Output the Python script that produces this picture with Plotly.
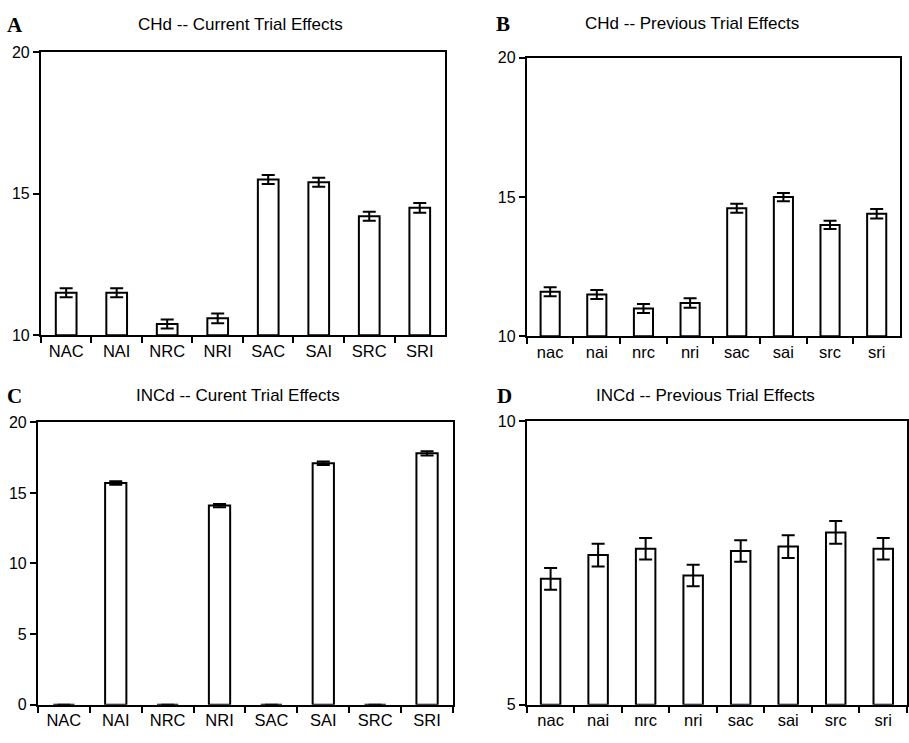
import plotly.graph_objects as go

cats_upper = ["NAC", "NAI", "NRC", "NRI", "SAC", "SAI", "SRC", "SRI"]
cats_lower = ["nac", "nai", "nrc", "nri", "sac", "sai", "src", "sri"]

a_vals = [11.5, 11.5, 10.4, 10.6, 15.5, 15.4, 14.2, 14.5]
a_err = [0.16, 0.16, 0.16, 0.17, 0.16, 0.16, 0.16, 0.17]

b_vals = [11.6, 11.5, 11.0, 11.2, 14.6, 15.0, 14.0, 14.4]
b_err = [0.16, 0.16, 0.16, 0.17, 0.16, 0.15, 0.15, 0.17]

c_vals = [0, 15.7, 0, 14.1, 0, 17.1, 0, 17.8]
c_err = [0, 0.12, 0, 0.12, 0, 0.12, 0, 0.15]

d_vals = [7.22, 7.64, 7.75, 7.28, 7.71, 7.79, 8.04, 7.75]
d_err = [0.19, 0.2, 0.19, 0.19, 0.19, 0.2, 0.2, 0.19]

titles = ["CHd -- Current Trial Effects", "CHd -- Previous Trial Effects",
          "INCd -- Curent Trial Effects", "INCd -- Previous Trial Effects"]
letters = ["A", "B", "C", "D"]

W, H = 909, 743

panels = [
    dict(cats=cats_upper, vals=a_vals, err=a_err, x=(41, 446), y=(45, 335),
         rng=[10, 20], ticks=[10, 15, 20], title_xy=(241, 17), letter_xy=(15, 17)),
    dict(cats=cats_lower, vals=b_vals, err=b_err, x=(528, 902), y=(51, 336),
         rng=[10, 20], ticks=[10, 15, 20], title_xy=(694, 16), letter_xy=(504, 16)),
    dict(cats=cats_upper, vals=c_vals, err=c_err, x=(38, 454), y=(424, 713),
         rng=[0, 20], ticks=[0, 5, 10, 15, 20], title_xy=(239, 397), letter_xy=(15, 397)),
    dict(cats=cats_lower, vals=d_vals, err=d_err, x=(528, 912), y=(423, 713),
         rng=[5, 10], ticks=[5, 10], title_xy=(707, 397), letter_xy=(506, 397)),
]


def px_x(v):
    return v / W


def px_y(v):
    return 1 - v / H


fig = go.Figure()
font = "Liberation Sans, Arial, sans-serif"
annotations = []
layout = {}
for i, p in enumerate(panels):
    n = "" if i == 0 else str(i + 1)
    lo = p["rng"][0]
    fig.add_trace(go.Bar(
        x=p["cats"], y=[v - lo for v in p["vals"]], base=lo,
        xaxis="x" + n, yaxis="y" + n,
        marker=dict(color="white", line=dict(color="black", width=2)),
        width=0.41,
        error_y=dict(type="data", array=p["err"], visible=True,
                     color="black", thickness=2, width=6.5),
        showlegend=False, hoverinfo="skip",
    ))
    x0, x1 = p["x"]
    y0, y1 = p["y"]
    layout["xaxis" + n] = dict(
        domain=[px_x(x0), min(px_x(x1), 1.0)], anchor="y" + n,
        type="category", tickson="boundaries", ticks="outside", ticklen=6,
        tickwidth=1.5, tickcolor="black",
        showline=True, linecolor="black", linewidth=2, mirror=True,
        showgrid=False, tickfont=dict(family=font, size=16.5, color="black"),
        range=[-0.5, 7.5], fixedrange=True,
    )
    layout["yaxis" + n] = dict(
        domain=[px_y(y1), px_y(y0)], anchor="x" + n,
        range=p["rng"], tickvals=p["ticks"], ticks="outside", ticklen=6,
        tickwidth=1.5, tickcolor="black",
        showline=True, linecolor="black", linewidth=2, mirror=True,
        showgrid=False, zeroline=False,
        tickfont=dict(family=font, size=16, color="black"),
    )
    tx, ty = p["title_xy"]
    annotations.append(dict(text=titles[i], x=px_x(tx), y=px_y(ty), xref="paper", yref="paper",
                            xanchor="center", yanchor="middle", showarrow=False,
                            font=dict(family=font, size=17, color="black")))
    lx, ly = p["letter_xy"]
    annotations.append(dict(text="<b>" + letters[i] + "</b>", x=px_x(lx), y=px_y(ly),
                            xref="paper", yref="paper", xanchor="center", yanchor="middle",
                            showarrow=False,
                            font=dict(family="Liberation Serif, Times New Roman, serif",
                                      size=21, color="black")))

fig.update_layout(
    width=W, height=H, margin=dict(l=0, r=0, t=0, b=0),
    paper_bgcolor="white", plot_bgcolor="white",
    annotations=annotations, **layout,
)
fig.write_html(
    "out.html",
    config={"displayModeBar": False},
    post_script="document.body.style.margin='0';"
                "document.documentElement.style.overflow='hidden';",
)
